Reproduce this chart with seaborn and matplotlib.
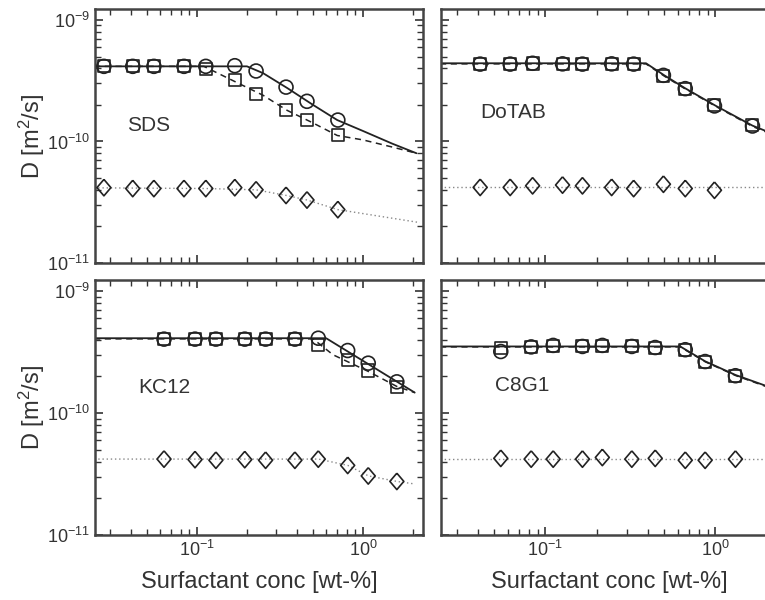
import numpy as np
import matplotlib
matplotlib.use("Agg")
import matplotlib.pyplot as plt
import seaborn as sns
from matplotlib.ticker import LogLocator, NullFormatter

# ---- data (x: wt-%, y: m^2/s) ----
panel_names = ["SDS", "DoTAB", "KC12", "C8G1"]

sds_x = [0.0275, 0.041, 0.055, 0.0835, 0.113, 0.169, 0.227, 0.344, 0.46, 0.706]
sds_circ = [4.15e-10, 4.15e-10, 4.15e-10, 4.15e-10, 4.15e-10, 4.2e-10, 3.8e-10, 2.8e-10, 2.14e-10, 1.5e-10]
sds_sq = [4.15e-10, 4.15e-10, 4.15e-10, 4.15e-10, 3.95e-10, 3.19e-10, 2.48e-10, 1.8e-10, 1.49e-10, 1.12e-10]
sds_dia = [4.17e-11, 4.1e-11, 4.1e-11, 4.1e-11, 4.1e-11, 4.17e-11, 4.0e-11, 3.6e-11, 3.3e-11, 2.75e-11]
sds_fit_solid_x = [0.024, 0.2, 0.25, 0.35, 0.5, 0.7, 1.0, 1.5, 2.1]
sds_fit_solid_y = [4.15e-10, 4.15e-10, 3.65e-10, 2.75e-10, 2.0e-10, 1.5e-10, 1.22e-10, 9.6e-11, 8.0e-11]
sds_fit_dash_x = [0.024, 0.11, 0.17, 0.25, 0.35, 0.5, 0.7, 1.0, 1.5, 2.1]
sds_fit_dash_y = [4.15e-10, 4.15e-10, 3.1e-10, 2.4e-10, 1.8e-10, 1.42e-10, 1.12e-10, 1.03e-10, 9.0e-11, 8.0e-11]
sds_fit_dot_x = [0.024, 0.0275, 0.113, 0.227, 0.344, 0.46, 0.706, 2.2]
sds_fit_dot_y = [4.15e-11, 4.15e-11, 4.1e-11, 4.0e-11, 3.6e-11, 3.3e-11, 2.75e-11, 2.15e-11]

dotab_x = [0.0413, 0.062, 0.084, 0.126, 0.165, 0.245, 0.33, 0.494, 0.664, 0.986, 1.65]
dotab_circ = [4.33e-10, 4.33e-10, 4.4e-10, 4.35e-10, 4.33e-10, 4.35e-10, 4.33e-10, 3.5e-10, 2.72e-10, 1.96e-10, 1.34e-10]
dotab_sq = [4.3e-10, 4.3e-10, 4.38e-10, 4.35e-10, 4.33e-10, 4.33e-10, 4.33e-10, 3.45e-10, 2.7e-10, 2.0e-10, 1.36e-10]
dotab_dia_x = [0.0413, 0.062, 0.084, 0.126, 0.165, 0.245, 0.33, 0.494, 0.664, 0.986]
dotab_dia = [4.19e-11, 4.19e-11, 4.32e-11, 4.38e-11, 4.32e-11, 4.19e-11, 4.1e-11, 4.45e-11, 4.1e-11, 3.97e-11]
dotab_fit_x = [0.024, 0.39, 0.5, 0.66, 1.0, 1.65, 2.3]
dotab_fit_solid_y = [4.4e-10, 4.4e-10, 3.5e-10, 2.75e-10, 1.97e-10, 1.35e-10, 1.12e-10]
dotab_fit_dash_y = [4.35e-10, 4.35e-10, 3.45e-10, 2.72e-10, 1.95e-10, 1.33e-10, 1.1e-10]
dotab_fit_dot_x = [0.024, 2.3]
dotab_fit_dot_y = [4.2e-11, 4.2e-11]

kc12_x = [0.0633, 0.0973, 0.13, 0.194, 0.259, 0.389, 0.538, 0.809, 1.076, 1.6]
kc12_circ = [4.03e-10, 4.03e-10, 4.03e-10, 4.03e-10, 4.03e-10, 4.03e-10, 4.1e-10, 3.25e-10, 2.56e-10, 1.8e-10]
kc12_sq = [4.03e-10, 4.03e-10, 4.03e-10, 4.03e-10, 4.03e-10, 4.03e-10, 3.6e-10, 2.72e-10, 2.23e-10, 1.62e-10]
kc12_dia = [4.19e-11, 4.15e-11, 4.1e-11, 4.15e-11, 4.1e-11, 4.1e-11, 4.19e-11, 3.72e-11, 3.05e-11, 2.75e-11]
kc12_fit_solid_x = [0.024, 0.6, 2.05]
kc12_fit_solid_y = [4.1e-10, 4.1e-10, 1.47e-10]
kc12_fit_dash_x = [0.024, 0.5, 0.66, 1.07, 1.6, 2.05]
kc12_fit_dash_y = [4.05e-10, 4.05e-10, 3.0e-10, 2.2e-10, 1.65e-10, 1.47e-10]
kc12_fit_dot_x = [0.024, 0.54, 0.81, 1.08, 1.6, 2.05]
kc12_fit_dot_y = [4.19e-11, 4.19e-11, 3.72e-11, 3.05e-11, 2.75e-11, 2.62e-11]

c8g1_x = [0.0546, 0.0824, 0.111, 0.165, 0.216, 0.322, 0.442, 0.664, 0.869, 1.31]
c8g1_circ = [3.19e-10, 3.48e-10, 3.58e-10, 3.51e-10, 3.58e-10, 3.51e-10, 3.44e-10, 3.3e-10, 2.64e-10, 2.02e-10]
c8g1_sq = [3.44e-10, 3.48e-10, 3.51e-10, 3.51e-10, 3.51e-10, 3.51e-10, 3.44e-10, 3.3e-10, 2.64e-10, 2.02e-10]
c8g1_dia = [4.25e-11, 4.19e-11, 4.19e-11, 4.19e-11, 4.32e-11, 4.19e-11, 4.25e-11, 4.1e-11, 4.1e-11, 4.19e-11]
c8g1_fit_x = [0.024, 0.62, 0.87, 1.31, 2.3]
c8g1_fit_solid_y = [3.51e-10, 3.51e-10, 2.65e-10, 2.05e-10, 1.55e-10]
c8g1_fit_dash_y = [3.48e-10, 3.48e-10, 2.63e-10, 2.03e-10, 1.53e-10]
c8g1_fit_dot_x = [0.024, 2.3]
c8g1_fit_dot_y = [4.19e-11, 4.19e-11]

panels = [
    dict(x=sds_x, circ=sds_circ, sq=sds_sq, dia_x=sds_x, dia=sds_dia,
         solid=(sds_fit_solid_x, sds_fit_solid_y), dash=(sds_fit_dash_x, sds_fit_dash_y),
         dot=(sds_fit_dot_x, sds_fit_dot_y), label_pos=(0.098, 0.52)),
    dict(x=dotab_x, circ=dotab_circ, sq=dotab_sq, dia_x=dotab_dia_x, dia=dotab_dia,
         solid=(dotab_fit_x, dotab_fit_solid_y), dash=(dotab_fit_x, dotab_fit_dash_y),
         dot=(dotab_fit_dot_x, dotab_fit_dot_y), label_pos=(0.116, 0.57)),
    dict(x=kc12_x, circ=kc12_circ, sq=kc12_sq, dia_x=kc12_x, dia=kc12_dia,
         solid=(kc12_fit_solid_x, kc12_fit_solid_y), dash=(kc12_fit_dash_x, kc12_fit_dash_y),
         dot=(kc12_fit_dot_x, kc12_fit_dot_y), label_pos=(0.131, 0.555)),
    dict(x=c8g1_x, circ=c8g1_circ, sq=c8g1_sq, dia_x=c8g1_x, dia=c8g1_dia,
         solid=(c8g1_fit_x, c8g1_fit_solid_y), dash=(c8g1_fit_x, c8g1_fit_dash_y),
         dot=(c8g1_fit_dot_x, c8g1_fit_dot_y), label_pos=(0.16, 0.563)),
]

sns.set_theme(style="ticks")
plt.rcParams["font.family"] = ["Liberation Sans", "DejaVu Sans"]
plt.rcParams["mathtext.fontset"] = "custom"
plt.rcParams["mathtext.rm"] = "Liberation Sans"
plt.rcParams["mathtext.it"] = "Liberation Sans:italic"
plt.rcParams["xtick.direction"] = "in"
plt.rcParams["ytick.direction"] = "in"

W, H = 765, 600
fig = plt.figure(figsize=(W / 100, H / 100), dpi=100)

# axes rectangles in pixels: left, top, right, bottom
rects = [(95, 9, 423, 263), (441, 9, 777, 263), (95, 280, 423, 535), (441, 280, 777, 535)]
axes = []
for (l, t, r, b) in rects:
    axes.append(fig.add_axes([l / W, 1 - b / H, (r - l) / W, (b - t) / H]))

dia_marker = [(0, 1), (0.85, 0), (0, -1), (-0.85, 0), (0, 1)]
ink = "#222222"

for i, (ax, p) in enumerate(zip(axes, panels)):
    sns.lineplot(x=p["dot"][0], y=p["dot"][1], ax=ax, color="#888888", lw=1.0,
                 linestyle=(0, (1, 2)), estimator=None, sort=False)
    sns.lineplot(x=p["dash"][0], y=p["dash"][1], ax=ax, color=ink, lw=1.1,
                 linestyle=(0, (4, 3)), estimator=None, sort=False)
    sns.lineplot(x=p["solid"][0], y=p["solid"][1], ax=ax, color=ink, lw=1.3,
                 estimator=None, sort=False)
    sns.scatterplot(x=p["x"], y=p["sq"], ax=ax, marker="s", s=75,
                    facecolor="none", edgecolor=ink, linewidth=1.2, zorder=4)
    sns.scatterplot(x=p["x"], y=p["circ"], ax=ax, marker="o", s=100,
                    facecolor="none", edgecolor=ink, linewidth=1.2, zorder=5)
    sns.scatterplot(x=p["dia_x"], y=p["dia"], ax=ax, marker=dia_marker, s=140,
                    facecolor="none", edgecolor=ink, linewidth=1.2, zorder=5)

    ax.set_xscale("log")
    ax.set_yscale("log")
    ax.set_xlim(0.0243, 2.3)
    ax.set_ylim(1e-11, 1.23e-9)
    ax.xaxis.set_major_locator(LogLocator(base=10, numticks=10))
    ax.xaxis.set_minor_locator(LogLocator(base=10, subs=np.arange(2, 10), numticks=20))
    ax.yaxis.set_major_locator(LogLocator(base=10, numticks=10))
    ax.yaxis.set_minor_locator(LogLocator(base=10, subs=np.arange(2, 10), numticks=20))
    ax.xaxis.set_minor_formatter(NullFormatter())
    ax.yaxis.set_minor_formatter(NullFormatter())
    ax.tick_params(which="both", direction="in", top=True, right=True,
                   bottom=True, left=True,
                   colors="#333333", labelcolor="#333333", labelsize=13)
    ax.tick_params(which="major", length=6, width=1.2)
    ax.tick_params(which="minor", length=4, width=1.0)
    for sp in ax.spines.values():
        sp.set_color("#444444")
        sp.set_linewidth(1.8)

    ax.text(p["label_pos"][0], p["label_pos"][1], panel_names[i], transform=ax.transAxes,
            fontsize=15, color="#333333", va="baseline", ha="left")

    if i % 2 == 0:
        ax.set_ylabel("D [m$^2$/s]", fontsize=17, color="#333333", labelpad=0)
    else:
        ax.tick_params(labelleft=False)
    if i >= 2:
        ax.set_xlabel("Surfactant conc [wt-%]", fontsize=17, color="#333333", labelpad=8)
    else:
        ax.tick_params(labelbottom=False)

fig.savefig("out.png", dpi=100)
